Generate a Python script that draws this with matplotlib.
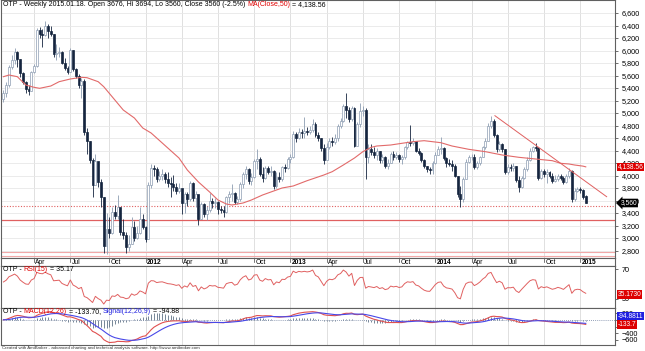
import numpy as np
import pandas as pd
import matplotlib
matplotlib.use("Agg")
import matplotlib.pyplot as plt
from matplotlib.transforms import blended_transform_factory

plt.rcParams['font.family'] = ['Liberation Sans', 'DejaVu Sans']

# weekly bars, one per week
dates = pd.date_range("2011-01-14", periods=210, freq="W-FRI")

closes = [5315, 5450, 5740, 5850, 5980, 5870, 5640, 5500, 5380, 5360,
          5650, 5760, 6330, 6270, 6250, 6400, 6320, 6270, 5940, 5960,
          5980, 5800, 5720, 5660, 6010, 5700, 5600, 5450, 5520, 4700,
          4560, 4250, 3850, 4230, 3900, 3650, 2870, 3150, 3080, 3420,
          3350, 3500, 3100, 3050, 2850, 2900, 3180, 3000, 3080, 3300,
          3180, 2980, 3850, 4120, 4100, 3950, 4000, 4020, 3950, 3880,
          3860, 3820, 3760, 3800, 3560, 3700, 3620, 3880, 3640, 3700,
          3300, 3540, 3380, 3450, 3600, 3560, 3580, 3470, 3450, 3420,
          3650, 3700, 3720, 3580, 3630, 3860, 4020, 4110, 3920, 3980,
          4230, 4260, 4020, 3960, 4120, 4060, 4080, 3830, 3980, 3940,
          4130, 4120, 4260, 4300, 4660, 4600, 4700, 4680, 4720, 4700,
          4730, 4820, 4650, 4600, 4440, 4250, 4450, 4560, 4540, 4600,
          4800, 4880, 5120, 5050, 4900, 5080, 4480, 4820, 5040, 5050,
          4300, 4420, 4380, 4330, 4400, 4250, 4300, 4160, 4200, 4350,
          4300, 4330, 4260, 4290, 4450, 4540, 4520, 4550, 4400, 4360,
          4250, 4150, 4100, 4090, 4200, 4330, 4420, 4440, 4280, 4200,
          4180, 4150, 3990, 3700, 3620, 3950, 4220, 4290, 4300, 4130,
          4200, 4300, 4450, 4560, 4800, 4870, 4650, 4420, 4500, 4420,
          4050, 4130, 4120, 4150, 3930, 3820, 3960, 4100, 4250, 4400,
          4460, 4440, 3960, 4080, 4020, 4060, 3990, 3920, 3950, 4000,
          3960, 3900, 3990, 4080, 3620, 3760, 3790, 3770, 3651, 3560]

highs = [5370, 5500, 5770, 5930, 6040, 5990, 5860, 5650, 5520, 5450,
         5680, 5780, 6360, 6370, 6340, 6470, 6420, 6400, 6260, 6110,
         6060, 5990, 5880, 5760, 6040, 6010, 5720, 5620, 5560, 5540,
         4760, 4550, 4280, 4350, 4100, 3940, 3660, 3400, 3330, 3500,
         3530, 3690, 3420, 3300, 3100, 3050, 3330, 3280, 3200, 3500,
         3380, 3200, 3900, 4180, 4170, 4140, 4080, 4110, 4060, 4050,
         3980, 4010, 3880, 3880, 3790, 3740, 3740, 3920, 3900, 3760,
         3650, 3580, 3560, 3520, 3720, 3640, 3640, 3600, 3520, 3510,
         3680, 3750, 3860, 3740, 3680, 3890, 4060, 4160, 4120, 4040,
         4260, 4430, 4300, 4130, 4160, 4150, 4150, 4090, 4060, 4050,
         4160, 4190, 4300, 4340, 4720, 4700, 4760, 4750, 4940, 4780,
         4790, 4900, 4850, 4700, 4600, 4500, 4520, 4600, 4620, 4660,
         4830, 4920, 5150, 5320, 5100, 5120, 5100, 4860, 5160, 5120,
         5080, 4500, 4500, 4450, 4440, 4400, 4340, 4310, 4260, 4380,
         4400, 4380, 4340, 4330, 4480, 4560, 4810, 4600, 4560, 4440,
         4380, 4260, 4160, 4130, 4230, 4380, 4480, 4620, 4450, 4290,
         4260, 4250, 4190, 3990, 3830, 3980, 4260, 4330, 4340, 4350,
         4240, 4320, 4480, 4600, 4840, 4960, 4900, 4660, 4560, 4520,
         4420, 4190, 4180, 4200, 4160, 3990, 3990, 4130, 4290, 4440,
         4480, 4520, 4450, 4110, 4100, 4100, 4080, 4040, 4010, 4030,
         4020, 3990, 4020, 4120, 4090, 3800, 3820, 3810, 3790, 3694]

lows = [5180, 5260, 5420, 5700, 5780, 5740, 5580, 5460, 5320, 5290,
        5350, 5640, 5740, 6200, 6060, 6230, 6200, 6240, 5900, 5850,
        5900, 5780, 5690, 5620, 5660, 5680, 5560, 5400, 5240, 4650,
        4350, 4200, 3660, 3950, 3820, 3500, 2760, 2750, 3000, 3060,
        3300, 3300, 3050, 2990, 2760, 2800, 2900, 2960, 2980, 3060,
        3150, 2930, 2980, 3800, 4000, 3900, 3920, 3930, 3880, 3820,
        3660, 3760, 3700, 3720, 3380, 3400, 3520, 3600, 3600, 3500,
        3210, 3300, 3330, 3290, 3420, 3480, 3480, 3390, 3400, 3330,
        3400, 3560, 3600, 3540, 3540, 3600, 3800, 3950, 3870, 3850,
        3960, 4110, 3990, 3900, 3950, 4030, 4000, 3790, 3800, 3900,
        3920, 4060, 4100, 4200, 4280, 4540, 4580, 4600, 4600, 4650,
        4660, 4700, 4620, 4550, 4400, 4190, 4300, 4420, 4480, 4500,
        4560, 4760, 4860, 4920, 4850, 4880, 4450, 4470, 4780, 4950,
        3950, 4200, 4330, 4280, 4250, 4200, 4200, 4120, 4100, 4200,
        4250, 4270, 4220, 4190, 4270, 4420, 4480, 4490, 4370, 4330,
        4220, 4120, 4060, 4030, 4030, 4180, 4330, 4350, 4250, 4140,
        4160, 4080, 3970, 3650, 3500, 3580, 3940, 4200, 4250, 4100,
        4100, 4170, 4290, 4420, 4560, 4760, 4620, 4380, 4400, 4380,
        4020, 4030, 4070, 4080, 3900, 3740, 3800, 3950, 4080, 4230,
        4380, 4390, 3930, 3940, 3980, 3880, 3960, 3880, 3890, 3920,
        3930, 3870, 3880, 3960, 3580, 3600, 3740, 3720, 3630, 3560]

first_open = 5230
last_open = 3676

# MA(Close,50): bar index -> value
ma_idx = [0, 2, 5, 8, 11, 13, 17, 20, 24, 28, 30, 34, 36, 40, 43, 47, 50, 53,
          55, 59, 63, 66, 70, 74, 77, 80, 82, 86, 89, 93, 96, 100, 104, 109,
          115, 118, 122, 126, 129, 132, 134, 139, 143, 147, 151, 154, 157,
          161, 167, 173, 179, 185, 191, 197, 200, 203, 205, 208, 209]
ma_val = [5581, 5608, 5581, 5448, 5411, 5395, 5432, 5501, 5544, 5571, 5565,
          5501, 5421, 5208, 5048, 4920, 4760, 4680, 4600, 4440, 4280, 4088,
          3896, 3736, 3608, 3544, 3528, 3560, 3608, 3688, 3736, 3800, 3832,
          3917, 4008, 4061, 4168, 4280, 4381, 4451, 4472, 4488, 4515, 4541,
          4557, 4541, 4525, 4472, 4419, 4381, 4328, 4291, 4264, 4237, 4195,
          4184, 4168, 4150, 4138.56]

# drawn studies
trend_idx = [176.4, 216.5]
trend_val = [4957, 3661]
level_solid = 3285
level_dotted = 3510
level_low = [2770, 2718]

price_ticks = list(range(2800, 6601, 200))

# ---------------------------------
closes = np.array(closes, dtype=float)
highs = np.array(highs, dtype=float)
lows = np.array(lows, dtype=float)
opens = np.r_[first_open, closes[:-1]]
opens[-1] = last_open
n = len(closes)
x = np.arange(n)

# RSI(15), Wilder smoothing
delta = np.diff(closes, prepend=closes[0])
ag, al = 100.0, 90.0
rsi = []
for d in delta:
    ag = (ag * 14 + max(d, 0)) / 15
    al = (al * 14 + max(-d, 0)) / 15
    rsi.append(100 * ag / (ag + al))
rsi = np.array(rsi)

# MACD(12,26,9)
cs = pd.Series(closes)
macd = (cs.ewm(span=12, adjust=False).mean() - cs.ewm(span=26, adjust=False).mean()).values
signal = pd.Series(macd).ewm(span=9, adjust=False).mean().values
hist = macd - signal

# quarter gridlines: first bar of Jan/Apr/Jul/Oct
grid_pos, grid_lab, grid_bold = [], [], []
for i in range(1, n):
    if dates[i].month != dates[i - 1].month and dates[i].month in (1, 4, 7, 10):
        grid_pos.append(i)
        if dates[i].month == 1:
            grid_lab.append(str(dates[i].year))
            grid_bold.append(True)
        else:
            grid_lab.append(dates[i].strftime('%b'))
            grid_bold.append(False)

W, H = 645, 351
fig = plt.figure(figsize=(W / 100, H / 100), dpi=100)
right = 615 / W


def pane(top, bottom):
    return fig.add_axes([0.001, 1 - bottom / H, right - 0.001, (bottom - top) / H])


ax = pane(0, 258)
axd = pane(258, 266)
axr = pane(266, 308)
axm = pane(308, 345)

spine_c = '#606060'
for a in (ax, axd, axr, axm):
    a.set_xlim(-1, 219.5)
    for s in a.spines.values():
        s.set_color(spine_c)
        s.set_linewidth(0.8)
    a.set_xticks([])
    a.yaxis.tick_right()
    a.tick_params(axis='y', labelsize=5.2, length=2, width=0.5, pad=3,
                  colors='#333333', labelcolor='black')
    if a is not axd:
        for g in grid_pos:
            a.axvline(g, color='#dadada', lw=0.6, zorder=0)

# ---- price pane
ax.set_ylim(2680, 6808)
ax.set_yticks(price_ticks)
ax.set_yticklabels([f'{v:,}' for v in price_ticks])
for v in price_ticks:
    ax.axhline(v, color='#e8e8e8', lw=0.6, zorder=0)

up = closes >= opens
edge = np.where(up, '#8d9db2', '#15253f')
face = np.where(up, 'white', '#15253f')
ax.vlines(x, lows, highs, colors=edge, lw=0.6, zorder=2)
body_lo = np.minimum(opens, closes)
body_h = np.maximum(np.abs(closes - opens), 8)
ax.bar(x, body_h, bottom=body_lo, width=0.7, color=face, edgecolor=edge,
       linewidth=0.5, zorder=3)

ax.plot(ma_idx, ma_val, color='#e26a6a', lw=0.8, zorder=4)
ax.plot(trend_idx, trend_val, color='#e06060', lw=0.7, zorder=4)
ax.axhline(level_solid, color='#e06060', lw=0.9, zorder=1)
ax.axhline(level_dotted, color='#e06060', lw=0.8, ls=(0, (1, 1.5)), zorder=1)
for v in level_low:
    ax.axhline(v, color='#f2a8a8', lw=0.8, zorder=1)

trp = blended_transform_factory(ax.transAxes, ax.transData)
ax.text(1.004, ma_val[-1], f'{ma_val[-1]:,.2f}', transform=trp, fontsize=4.8,
        color='white', va='center', ha='left', zorder=10, clip_on=False,
        bbox=dict(boxstyle='square,pad=0.12', fc='#dd0000', ec='none'))
ax.text(1.009, closes[-1], f'{closes[-1]:,.0f}', transform=trp, fontsize=4.8,
        color='white', va='center', ha='left', zorder=10, clip_on=False,
        bbox=dict(boxstyle='larrow,pad=0.12', fc='black', ec='none'))


def title(a, pieces, size=5.0):
    t = a.text(0.004, 0.995, pieces[0][0], color=pieces[0][1],
               transform=a.transAxes, fontsize=size, va='top', ha='left', zorder=11)
    for s, col in pieces[1:]:
        t = a.annotate(s, xy=(1, 0), xycoords=t, va='bottom', ha='left',
                       color=col, fontsize=size, zorder=11)


title(ax, [('OTP - Weekly 2015.01.18. Open 3676, Hi 3694, Lo 3560, Close 3560 (-2.5%) ', 'black'),
           ('MA(Close,50)', '#e00000'), (' = 4,138.56', 'black')])

# ---- date strip
axd.set_ylim(0, 1)
axd.set_yticks([])
for g, lab, b in zip(grid_pos, grid_lab, grid_bold):
    axd.axvline(g, ymin=0.55, ymax=1, color='#404040', lw=0.5)
    axd.text(g + 0.5, 0.45, lab, fontsize=4.8, va='center', ha='left',
             fontweight='bold' if b else 'normal')

# ---- RSI pane
axr.set_ylim(17, 74.5)
axr.set_yticks([70, 30])
axr.plot(x, rsi, color='#e06060', lw=0.7, zorder=3)
trr = blended_transform_factory(axr.transAxes, axr.transData)
axr.text(1.004, 35.17, '35.1730', transform=trr, fontsize=4.8, color='white',
         va='center', ha='left', zorder=10, clip_on=False,
         bbox=dict(boxstyle='square,pad=0.12', fc='#dd0000', ec='none'))
title(axr, [('OTP - ', 'black'), ('RSI(15)', '#e00000'), (' = 35.17', 'black')])

# ---- MACD pane
axm.set_ylim(-750, 350)
axm.set_yticks([200, 0, -200, -400, -600])
axm.axhline(0, color='#7080a0', lw=0.6, ls=(0, (1, 1.5)), zorder=1)
axm.vlines(x, 0, hist, colors='#5f7286', lw=0.6, zorder=2)
axm.plot(x, macd, color='#e05050', lw=0.8, zorder=3)
axm.plot(x, signal, color='#4848e8', lw=0.8, zorder=3)
trm = blended_transform_factory(axm.transAxes, axm.transData)
axm.annotate('-94.8811', xy=(1.004, -94.88), xycoords=trm, xytext=(0, 5),
             textcoords='offset points', fontsize=4.8, color='white',
             va='center', ha='left', zorder=10, annotation_clip=False,
             bbox=dict(boxstyle='square,pad=0.12', fc='#2020e0', ec='none'))
axm.text(1.004, -133.7, '-133.7', transform=trm, fontsize=4.8, color='white',
         va='center', ha='left', zorder=10, clip_on=False,
         bbox=dict(boxstyle='square,pad=0.12', fc='#dd0000', ec='none'))
title(axm, [('OTP - ', 'black'), ('MACD(12,26)', '#e00000'), (' = -133.70, ', 'black'),
            ('Signal(12,26,9)', '#2020e0'), (' = -94.88', 'black')])

fig.text(2 / W, 1 - 348 / H, 'Created with AmiBroker - advanced charting and technical '
         'analysis software. http://www.amibroker.com', fontsize=3.15, va='center',
         ha='left', color='#333333')

fig.savefig('out.png', dpi=100)
